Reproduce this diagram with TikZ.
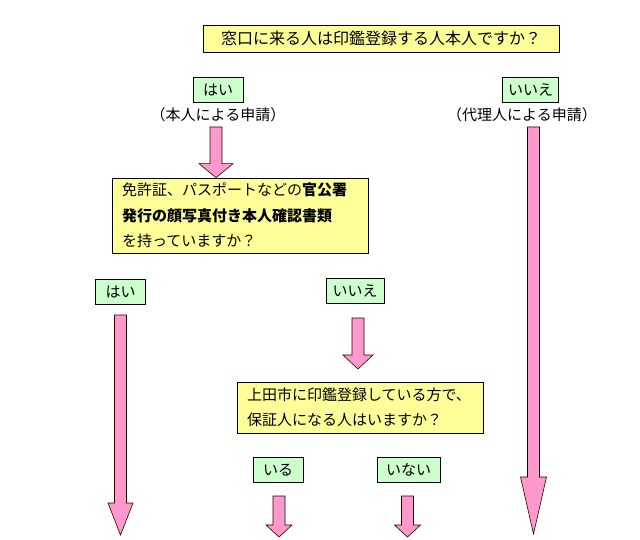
\documentclass[tikz,border=0pt]{standalone}
\usepackage{fontspec}
\setmainfont{Noto Sans CJK JP}
\usepackage{xcolor}
\usepackage{tikz}
\usetikzlibrary{calc}

\definecolor{qyellow}{HTML}{FFFF99}
\definecolor{agreen}{HTML}{CCFFCC}
\definecolor{apink}{HTML}{FF99CC}

% fat arrow: start, end, head length, head half width
\newcommand{\fatarrow}[4]{%
  \filldraw[flow] let \p1=(#1), \p2=(#2) in
    (\x1-6pt,\y1) -- (\x1+6pt,\y1) -- (\x1+6pt,\y2+#3pt) -- (\x1+#4pt,\y2+#3pt)
    -- (\x1,\y2) -- (\x1-#4pt,\y2+#3pt) -- (\x1-6pt,\y2+#3pt) -- cycle;}

\begin{document}
\begin{tikzpicture}[x=1pt,y=-1pt,
    font=\fontsize{15}{25.5}\selectfont,
    question/.style={draw,fill=qyellow,line width=0.6pt,inner sep=0pt},
    answer/.style={draw,fill=agreen,line width=0.6pt,minimum height=25pt,inner sep=0pt},
    flow/.style={fill=apink,draw=black!85!red,line width=0.6pt}]
    \useasboundingbox (0,0) rectangle (640,540);
    % Draw questions
    \node[question,minimum width=356pt,minimum height=27pt,font=\fontsize{16}{20}\selectfont] (ask1) at (381,38.5)
        {窓口に来る人は印鑑登録する人本人ですか？};
    \node[question,minimum width=256pt,minimum height=75pt,text width=236pt,align=left] (ask2) at (240,215.5)
        {免許証、パスポートなどの\textbf{官公署}\\\textbf{発行の顔写真付き本人確認書類}\\を持っていますか？};
    \node[question,minimum width=246pt,minimum height=51pt,text width=226pt,align=left,
        font=\fontsize{15}{25}\selectfont] (ask3) at (360,407.5)
        {上田市に印鑑登録している方で、\\保証人になる人はいますか？};
    % Draw answers
    \node[answer,minimum width=50pt] (yes1) at (218,89.5) {はい};
    \node[answer,minimum width=56pt] (no1) at (530.5,89.5) {いいえ};
    \node (who1) at (218,115) {（本人による申請）};
    \node (who2) at (522,115) {（代理人による申請）};
    \node[answer,minimum width=50pt] (yes2) at (120.5,292) {はい};
    \node[answer,minimum width=58pt] (no2) at (355,291) {いいえ};
    \node[answer,minimum width=50pt] (have) at (278,470) {いる};
    \node[answer,minimum width=63pt] (havenot) at (408.5,470) {いない};
    % Arrow ends
    \coordinate (s1) at (216,127);
    \coordinate (s2) at (120.5,315);
    \coordinate (e2) at (120.5,535);
    \coordinate (s3) at (358,318);
    \coordinate (e3) at (358,369);
    \coordinate (s4) at (279,496);
    \coordinate (e4) at (279,537);
    \coordinate (s5) at (407.5,496);
    \coordinate (e5) at (407.5,537);
    \coordinate (s6) at (533.5,127);
    \coordinate (e6) at (533.5,534);
    % Draw arrows
    \fatarrow{s1}{ask2.north}{14}{17}
    \fatarrow{s2}{e2}{32}{12.5}
    \fatarrow{s3}{e3}{14}{15}
    \fatarrow{s4}{e4}{12}{13}
    \fatarrow{s5}{e5}{12}{13}
    \fatarrow{s6}{e6}{57}{13}
\end{tikzpicture}
\end{document}
